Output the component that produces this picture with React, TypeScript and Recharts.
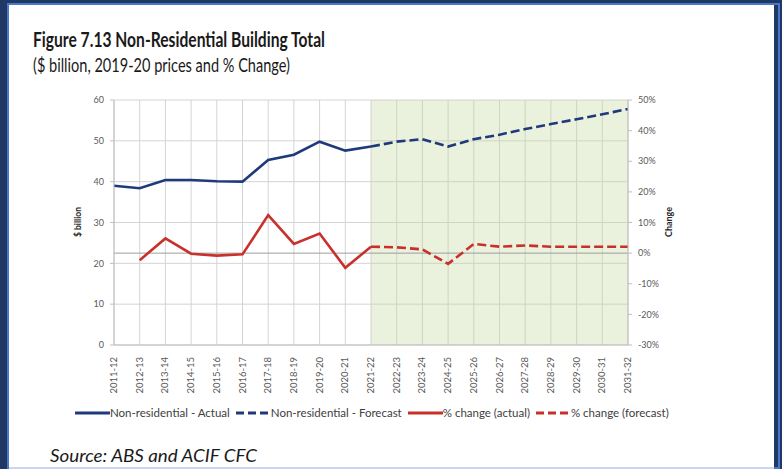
import React from "react";
import {
  LineChart,
  Line,
  XAxis,
  YAxis,
  CartesianGrid,
  ReferenceArea,
  ReferenceLine,
} from "recharts";

// ---------------------------------------------------------------------------
// Data
// ---------------------------------------------------------------------------

const YEARS = [
  "2011-12", "2012-13", "2013-14", "2014-15", "2015-16", "2016-17", "2017-18",
  "2018-19", "2019-20", "2020-21", "2021-22", "2022-23", "2023-24", "2024-25",
  "2025-26", "2026-27", "2027-28", "2028-29", "2029-30", "2030-31", "2031-32",
];

// $ billion, 2019-20 prices
const ACTUAL_VALUE = [39.0, 38.4, 40.4, 40.4, 40.1, 40.0, 45.3, 46.6, 49.8, 47.6, 48.6];
const FORECAST_VALUE = [48.6, 49.8, 50.4, 48.6, 50.4, 51.5, 52.9, 54.1, 55.3, 56.5, 57.8];

// % change
const ACTUAL_CHANGE = [null, -2.3, 4.8, -0.2, -0.8, -0.4, 12.4, 3.0, 6.4, -4.8, 2.1];
const FORECAST_CHANGE = [2.1, 1.9, 1.2, -3.5, 3.0, 2.1, 2.5, 2.1, 2.1, 2.1, 2.1];

const FORECAST_START = 10; // index of 2021-22

const LEFT_TICKS = [0, 10, 20, 30, 40, 50, 60];
const RIGHT_TICKS = [-30, -20, -10, 0, 10, 20, 30, 40, 50];

const data = YEARS.map((year, i) => ({
  year,
  actualValue: i < ACTUAL_VALUE.length ? ACTUAL_VALUE[i] : null,
  forecastValue: i >= FORECAST_START ? FORECAST_VALUE[i - FORECAST_START] : null,
  actualChange: i < ACTUAL_CHANGE.length ? ACTUAL_CHANGE[i] : null,
  forecastChange: i >= FORECAST_START ? FORECAST_CHANGE[i - FORECAST_START] : null,
}));

// ---------------------------------------------------------------------------
// Styling
// ---------------------------------------------------------------------------

const BLUE = "#1f3a7c";
const RED = "#c8312b";
const FONT = "Lato, 'Open Sans', sans-serif";
const TICK_COLOR = "#595959";
const DASH = "9 4";

const LEGEND = [
  { label: "Non-residential - Actual", color: BLUE, dashed: false },
  { label: "Non-residential - Forecast", color: BLUE, dashed: true },
  { label: "% change (actual)", color: RED, dashed: false },
  { label: "% change (forecast)", color: RED, dashed: true },
];

// plot area: x 114..628, y 100..345
const W = 782;
const H = 469;
const LEFT_AXIS_W = 40;
const RIGHT_AXIS_W = 50;
const X_AXIS_H = 50;

function XTick(props: any) {
  const { x, y, payload } = props;
  return (
    <text
      x={x + 3}
      y={y + 4}
      transform={`rotate(-90, ${x + 3}, ${y + 4})`}
      textAnchor="end"
      fontSize={9.5}
      fontFamily={FONT}
      fill={TICK_COLOR}
    >
      {payload.value}
    </text>
  );
}

function LegendRow() {
  return (
    <div
      style={{
        position: "absolute",
        left: 75,
        top: 406,
        display: "flex",
        alignItems: "center",
        fontFamily: FONT,
        fontSize: 11.5,
        color: "#404040",
        whiteSpace: "nowrap",
      }}
    >
      {LEGEND.map((item) => (
        <div key={item.label} style={{ display: "flex", alignItems: "center", marginRight: 6 }}>
          <svg width={35} height={10}>
            <line
              x1={0}
              y1={5}
              x2={35}
              y2={5}
              stroke={item.color}
              strokeWidth={3}
              strokeDasharray={item.dashed ? "8 4" : undefined}
            />
          </svg>
          <span>{item.label}</span>
        </div>
      ))}
    </div>
  );
}

export default function App() {
  return (
    <div
      style={{
        position: "absolute",
        left: 0,
        top: 0,
        width: W,
        height: H,
        background: "#1f3864",
        overflow: "hidden",
      }}
    >
      <div style={{ position: "absolute", left: 7, top: 3, width: 773, height: 466, background: "#4a78c8" }} />
      <div style={{ position: "absolute", left: 9, top: 5, width: 769, height: 462, background: "#1f3864" }} />
      <div style={{ position: "absolute", left: 9, top: 5, width: 765, height: 462, background: "#ffffff" }} />
      <div style={{ position: "absolute", left: 9, top: 467, width: 765, height: 2, background: "#c9d6ee" }} />

      <svg style={{ position: "absolute", left: 0, top: 0 }} width={W} height={H}>
        <text
          x={33}
          y={47}
          fontFamily={FONT}
          fontWeight={700}
          fontSize={21}
          fill="#1a1a1a"
          textLength={292}
          lengthAdjust="spacingAndGlyphs"
        >
          Figure 7.13 Non-Residential Building Total
        </text>
        <text
          x={33}
          y={72}
          fontFamily={FONT}
          fontSize={18.5}
          fill="#1a1a1a"
          textLength={257}
          lengthAdjust="spacingAndGlyphs"
        >
          ($ billion, 2019-20 prices and % Change)
        </text>
        <text
          x={50}
          y={462}
          fontFamily={FONT}
          fontStyle="italic"
          fontSize={17.5}
          fill="#1a1a1a"
          textLength={207}
          lengthAdjust="spacingAndGlyphs"
        >
          Source: ABS and ACIF CFC
        </text>
        <text
          x={81}
          y={222}
          transform="rotate(-90, 81, 222)"
          textAnchor="middle"
          fontFamily={FONT}
          fontWeight={700}
          fontSize={8.5}
          fill="#262626"
        >
          $ billion
        </text>
        <text
          x={672}
          y={222}
          transform="rotate(-90, 672, 222)"
          textAnchor="middle"
          fontFamily={FONT}
          fontWeight={700}
          fontSize={9}
          fill="#262626"
        >
          Change
        </text>
      </svg>

      <div style={{ position: "absolute", left: 0, top: 0 }}>
        <LineChart
          width={W}
          height={H}
          data={data}
          margin={{
            top: 100,
            right: W - 628 - RIGHT_AXIS_W,
            bottom: H - 345 - X_AXIS_H,
            left: 114 - LEFT_AXIS_W,
          }}
        >
          <ReferenceArea
            yAxisId="left"
            x1={YEARS[FORECAST_START]}
            x2={YEARS[YEARS.length - 1]}
            y1={0}
            y2={60}
            fill="#c4d79b"
            fillOpacity={0.35}
            stroke="none"
            ifOverflow="hidden"
          />
          <CartesianGrid yAxisId="left" stroke="#d4d4d4" strokeWidth={1} />
          <XAxis
            dataKey="year"
            scale="point"
            interval={0}
            padding={{ left: 0, right: 0 }}
            height={X_AXIS_H}
            tick={<XTick />}
            tickLine={false}
            axisLine={{ stroke: "#bfbfbf" }}
          />
          <YAxis
            yAxisId="left"
            width={LEFT_AXIS_W}
            domain={[0, 60]}
            ticks={LEFT_TICKS}
            tick={{ fontSize: 9, fontFamily: FONT, fill: TICK_COLOR }}
            tickSize={4}
            tickMargin={6}
            tickLine={{ stroke: "#bfbfbf" }}
            axisLine={{ stroke: "#bfbfbf" }}
          />
          <YAxis
            yAxisId="right"
            orientation="right"
            width={RIGHT_AXIS_W}
            domain={[-30, 50]}
            ticks={RIGHT_TICKS}
            tickFormatter={(v: number) => `${v}%`}
            tick={{ fontSize: 9, fontFamily: FONT, fill: TICK_COLOR }}
            tickSize={4}
            tickMargin={6}
            tickLine={{ stroke: "#bfbfbf" }}
            axisLine={{ stroke: "#bfbfbf" }}
          />
          <ReferenceLine yAxisId="right" y={0} stroke="#9e9e9e" strokeWidth={1} />
          <Line
            yAxisId="left"
            dataKey="actualValue"
            stroke={BLUE}
            strokeWidth={2.6}
            dot={false}
            isAnimationActive={false}
          />
          <Line
            yAxisId="left"
            dataKey="forecastValue"
            stroke={BLUE}
            strokeWidth={2.6}
            strokeDasharray={DASH}
            dot={false}
            isAnimationActive={false}
          />
          <Line
            yAxisId="right"
            dataKey="actualChange"
            stroke={RED}
            strokeWidth={2.6}
            dot={false}
            isAnimationActive={false}
          />
          <Line
            yAxisId="right"
            dataKey="forecastChange"
            stroke={RED}
            strokeWidth={2.6}
            strokeDasharray={DASH}
            dot={false}
            isAnimationActive={false}
          />
        </LineChart>
      </div>

      <LegendRow />
    </div>
  );
}
